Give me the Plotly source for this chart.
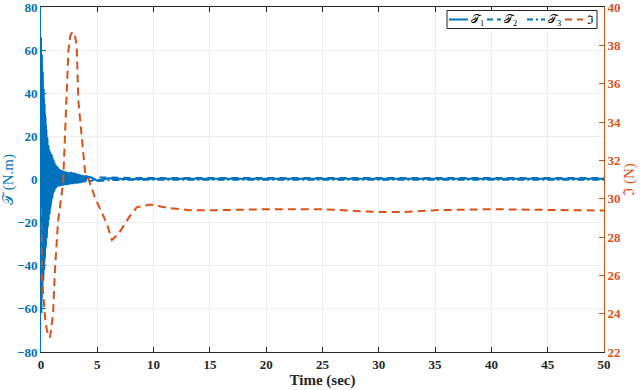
import numpy as np
import plotly.graph_objects as go

# ---------------- data ----------------
# Torque 1, dense oscillation part sampled every 0.04 s from t=0 to t=4.0
T1_dt = 0.04
T1_dense = [66, -62, 58, -52, 50, -47, 42, -42, 35, -36, 29, -31, 23, -27, 19, -22, 16, -19, 14, -16,
            13, -13, 12, -10, 11.5, -8.5, 10, -6.5, 9, -5.5, 8, -4.5, 7, -4, 6.5, -3.5, 6, -3, 5.5, -3, 5,
            -3.2, 4.6, -2.8, 4.2, -3.0, 4.4, -2.6, 3.9, -2.9, 4.1,
            -2.5, 3.6, -2.7, 3.8, -2.3, 3.3, -2.6, 3.5, -2.2, 3.4,
            -2.4, 3.1, -2.0, 3.3, -2.3, 2.9, -2.1, 3.6, -1.9, 3.0,
            -2.2, 2.8, -1.8, 3.2, -2.0, 2.6, -1.7, 2.9, -1.9, 2.5,
            -1.6, 2.7, -1.8, 2.3, -1.5, 2.4, -1.7, 2.1, -1.4, 2.2,
            -1.5, 1.9, -1.3, 2.0, -1.4, 1.7, -1.2, 1.8, -1.1, 1.5]
# Torques 2 and 3, dense part sampled every 0.05 s from t=0 to t=4.0
T23_dt = 0.05
T2_dense = [-58, 52, -50, 44, -45, 38, -38, 31, -32, 25,
            -26, 20, -21, 16, -17, 13, -14, 11, -11, 9.5,
            -8, 8.5, -6, 7.5, -5, 6.5, -4.2, 5.8, -3.6, 5.2,
            -3.1, 4.6, -2.9, 4.0, -2.7, 3.7, -2.5, 3.4, -2.3, 3.2,
            -2.1, 3.0, -2.2, 2.8, -1.9, 2.9, -1.8, 2.6, -2.0, 2.4,
            -1.7, 2.5, -1.6, 2.2, -1.8, 2.1, -1.5, 2.3, -1.4, 2.0,
            -1.5, 1.8, -1.3, 1.9, -1.2, 1.6, -1.3, 1.5, -1.1, 1.4,
            -1.0, 1.3, -1.1, 1.2, -0.9, 1.1, -0.9, 1.0, -0.8, 0.9,
            -0.8]
T3_dense = [45, -55, 40, -46, 33, -39, 27, -33, 22, -28,
            18, -23, 14, -18, 12, -15, 10, -12, 8.5, -9,
            7.5, -7, 6.5, -5.5, 5.5, -4.5, 5.0, -3.8, 4.4, -3.2,
            4.0, -2.8, 3.6, -2.6, 3.3, -2.4, 3.1, -2.2, 2.9, -2.0,
            2.7, -1.9, 2.6, -1.8, 2.4, -1.7, 2.2, -1.6, 2.1, -1.5,
            2.0, -1.4, 1.9, -1.5, 1.7, -1.3, 1.8, -1.2, 1.6, -1.2,
            1.5, -1.1, 1.4, -1.0, 1.3, -1.0, 1.2, -0.9, 1.1, -0.9,
            1.0, -0.8, 1.0, -0.8, 0.9, -0.7, 0.9, -0.7, 0.8, -0.7,
            0.7]
# settled part (t > 4 s)
tail_time = [4.5, 5, 6, 8, 10, 15, 20, 25, 30, 35, 40, 45, 50]
T1_tail = [0.9, -0.5, 0.6, 0.1, 0.3, 0.3, 0.3, 0.3, 0.3, 0.3, 0.3, 0.3, 0.3]
T2_tail = [-0.6, 1.0, 0.8, 0.7, 0.7, 0.7, 0.7, 0.7, 0.7, 0.7, 0.7, 0.7, 0.7]
T3_tail = [0.7, -0.7, -0.3, -0.1, -0.1, -0.1, -0.1, -0.1, -0.1, -0.1, -0.1, -0.1, -0.1]

# Force signal
F_time = [0, 0.09, 0.36, 0.53, 0.8, 1.07, 1.24, 1.51, 1.96, 2.28, 2.43, 2.6, 2.8, 3.0, 3.17,
          3.32, 3.62, 3.91, 4.3, 4.8, 5.84, 6.3, 6.87, 7.9, 8.5, 9.7, 11.5, 13.2, 15.6, 20,
          25, 28, 30, 32, 35, 40, 45, 48, 50]
F_val = [29.5, 25.9, 23.8, 23.1, 22.75, 24.0, 26.25, 28.8, 30.8, 35.1, 37.7, 38.5, 38.7, 38.55, 38.0,
         35.1, 33.0, 31.4, 30.9, 30.05, 28.7, 27.85, 28.15, 29.1, 29.55, 29.7, 29.5, 29.4, 29.4, 29.45,
         29.45, 29.38, 29.3, 29.3, 29.4, 29.45, 29.42, 29.38, 29.38]

x_ticks = [0, 5, 10, 15, 20, 25, 30, 35, 40, 45, 50]
yl_ticks = [-80, -60, -40, -20, 0, 20, 40, 60, 80]
yr_ticks = [22, 24, 26, 28, 30, 32, 34, 36, 38, 40]

series_names = ["𝒯<sub>1</sub>", "𝒯<sub>2</sub>", "𝒯<sub>3</sub>", "ℑ"]

# ---------------- figure ----------------
BLUE = "#0072BD"
ORANGE = "#D95319"
SERIF = "Liberation Serif"
GRID = "#ebeef2"
W, H = 640, 390
ML, MR, MT, MB = 41, 36, 7, 38
PW, PH = W - ML - MR, H - MT - MB

DASHES = ["solid", "6px,4px", "6px,3px,2px,3px", "7px,5px"]
COLORS = [BLUE, BLUE, BLUE, ORANGE]

t1 = list(np.round(np.arange(len(T1_dense)) * T1_dt, 3)) + tail_time
t23 = list(np.round(np.arange(len(T2_dense)) * T23_dt, 3)) + tail_time

fig = go.Figure()
fig.add_trace(go.Scatter(x=t1, y=T1_dense + T1_tail, mode="lines", name=series_names[0],
                         line=dict(color=BLUE, width=2)))
fig.add_trace(go.Scatter(x=t23, y=T2_dense + T2_tail, mode="lines", name=series_names[1],
                         line=dict(color=BLUE, width=2, dash="7px,5px")))
fig.add_trace(go.Scatter(x=t23, y=T3_dense + T3_tail, mode="lines", name=series_names[2],
                         line=dict(color=BLUE, width=2, dash="7px,3px,2px,3px")))
fig.add_trace(go.Scatter(x=F_time, y=F_val, mode="lines", name=series_names[3], yaxis="y2",
                         line=dict(color=ORANGE, width=2, dash="8px,5px")))


def px(xp):
    return (xp - ML) / PW


def py(yp):
    return 1 - (yp - MT) / PH


# compact MATLAB-style legend box (drawn as layout decoration)
shapes = [dict(type="rect", xref="paper", yref="paper", x0=px(447), x1=px(597), y0=py(28.5), y1=py(10.5),
               line=dict(color="#262626", width=1), fillcolor="white", layer="above")]
annotations = []
item_line_x = [(449, 468), (487, 501), (527, 545), (565, 583)]
item_text_x = [469, 502, 546, 585]
for k in range(4):
    a, b = item_line_x[k]
    shapes.append(dict(type="line", xref="paper", yref="paper", x0=px(a), x1=px(b), y0=py(19.5), y1=py(19.5),
                       line=dict(color=COLORS[k], width=2, dash=DASHES[k]), layer="above"))
    annotations.append(dict(xref="paper", yref="paper", x=px(item_text_x[k]), y=py(19.5),
                            xanchor="left", yanchor="middle", showarrow=False, text=series_names[k],
                            font=dict(family=SERIF, size=12, color="#000000")))

tickfont = dict(family=SERIF, size=13, weight="bold")
fig.update_layout(
    width=W, height=H,
    margin=dict(l=ML, r=MR, t=MT, b=MB, pad=0),
    paper_bgcolor="white", plot_bgcolor="white",
    font=dict(family=SERIF, size=13, color="#262626"),
    showlegend=False,
    shapes=shapes, annotations=annotations,
    xaxis=dict(range=[0, 50], tickvals=x_ticks, ticks="inside", ticklen=5, tickcolor="#262626",
               showline=True, linecolor="#262626", linewidth=1, mirror="ticks",
               showgrid=True, gridcolor=GRID, zeroline=False, automargin=False,
               ticklabeloverflow="allow",
               tickfont=dict(tickfont, color="#262626"),
               title=dict(text="<b>Time (sec)</b>", standoff=1,
                          font=dict(family=SERIF, size=15, color="#262626"))),
    yaxis=dict(range=[-80, 80], tickvals=yl_ticks, ticks="inside", ticklen=5, tickcolor=BLUE,
               showline=True, linecolor=BLUE, linewidth=1, automargin=False,
               showgrid=True, gridcolor=GRID, zeroline=False,
               ticklabeloverflow="allow",
               tickfont=dict(tickfont, color=BLUE),
               title=dict(text="𝒯 (N.m)", standoff=2,
                          font=dict(family=SERIF, size=15, color=BLUE))),
    yaxis2=dict(range=[22, 40], tickvals=yr_ticks, ticks="inside", ticklen=5, tickcolor=ORANGE,
                overlaying="y", side="right", anchor="x", automargin=False,
                showline=True, linecolor=ORANGE, linewidth=1,
                showgrid=False, zeroline=False,
                ticklabeloverflow="allow",
                tickfont=dict(tickfont, color=ORANGE),
                title=dict(text="ℑ (N)", standoff=0,
                           font=dict(family=SERIF, size=15, color=ORANGE))),
)

fig.write_html("out.html", config={"displayModeBar": False},
               post_script="document.body.style.margin='0px';")
